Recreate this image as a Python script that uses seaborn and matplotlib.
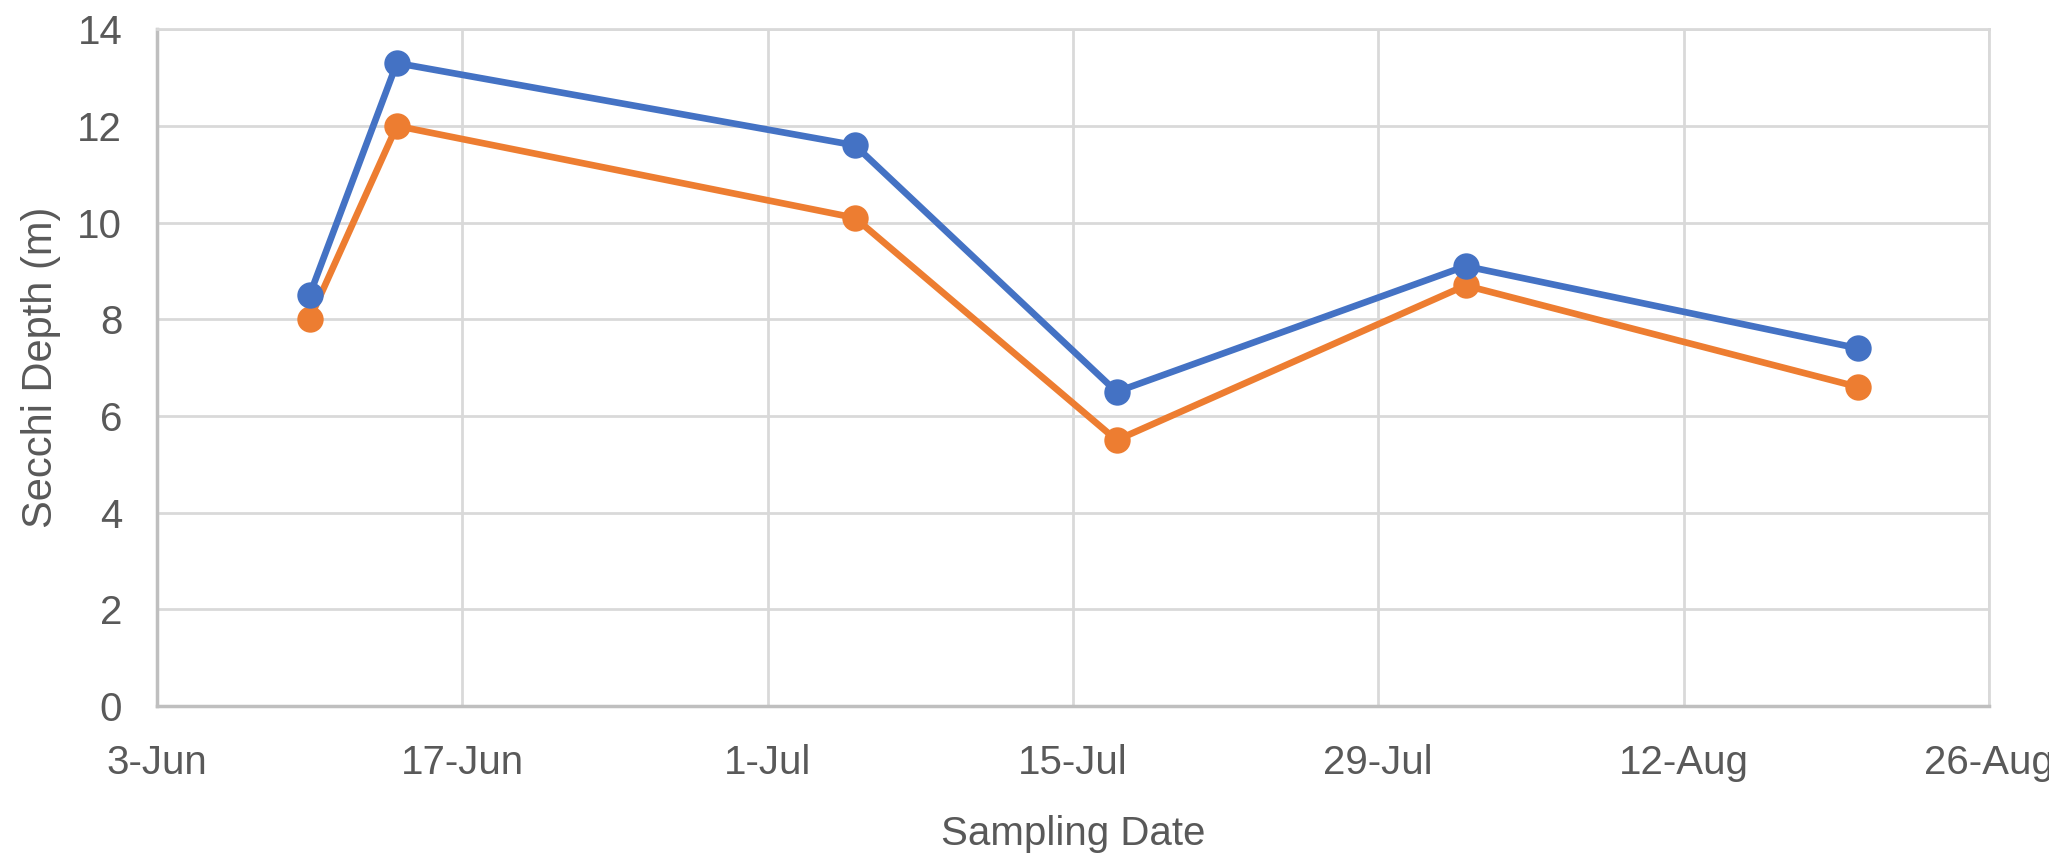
import pandas as pd
import matplotlib
matplotlib.use("Agg")
import matplotlib.pyplot as plt
import matplotlib.dates as mdates
import seaborn as sns

# Dados
dates = ["2019-06-10", "2019-06-14", "2019-07-05", "2019-07-17", "2019-08-02", "2019-08-20"]
series_a = [8.5, 13.3, 11.6, 6.5, 9.1, 7.4]
series_b = [8.0, 12.0, 10.1, 5.5, 8.7, 6.6]
series_names = ["Series A", "Series B"]
tick_dates = ["2019-06-03", "2019-06-17", "2019-07-01", "2019-07-15",
              "2019-07-29", "2019-08-12", "2019-08-26"]
y_ticks = [0, 2, 4, 6, 8, 10, 12, 14]

sns.set_style("white")
plt.rcParams['font.family'] = ['Liberation Sans', 'DejaVu Sans']

TEXT = '#595959'
GRID = '#d9d9d9'
COLORS = ['#4472c4', '#ed7d31']

df = pd.concat([
    pd.DataFrame({'date': pd.to_datetime(dates), 'depth': series_a, 'series': series_names[0]}),
    pd.DataFrame({'date': pd.to_datetime(dates), 'depth': series_b, 'series': series_names[1]}),
], ignore_index=True)

fig = plt.figure(figsize=(20.49, 8.6), dpi=100)
ax = fig.add_axes([0.0766, 0.179, 0.8941, 0.787])

sns.lineplot(data=df, x='date', y='depth', hue='series', hue_order=series_names[::-1],
             palette=COLORS[::-1], marker='o', legend=False, ax=ax, zorder=3)
# espessura e marcadores no estilo do Excel
for line in ax.lines:
    line.set_linewidth(4.8)
    line.set_markersize(19)
    line.set_markeredgewidth(0)

ticks = pd.to_datetime(tick_dates)
ax.set_xlim(ticks[0], ticks[-1])
ax.set_xticks(ticks)
ax.xaxis.set_major_formatter(mdates.DateFormatter('%-d-%b'))
ax.set_ylim(0, 14)
ax.set_yticks(y_ticks)

ax.grid(True, color=GRID, linewidth=2)
ax.set_axisbelow(True)
for side in ['top', 'right']:
    ax.spines[side].set_color(GRID)
    ax.spines[side].set_linewidth(2)
for side in ['left', 'bottom']:
    ax.spines[side].set_color('#bfbfbf')
    ax.spines[side].set_linewidth(2.5)

ax.tick_params(axis='both', length=0, labelsize=29, colors=TEXT)
ax.tick_params(axis='x', pad=27)
ax.tick_params(axis='y', pad=25)
ax.set_xlabel('Sampling Date', fontsize=29, color=TEXT, labelpad=24)
ax.set_ylabel('Secchi Depth (m)', fontsize=30, color=TEXT, labelpad=12)

fig.savefig('out.png', dpi=100, facecolor='white')
